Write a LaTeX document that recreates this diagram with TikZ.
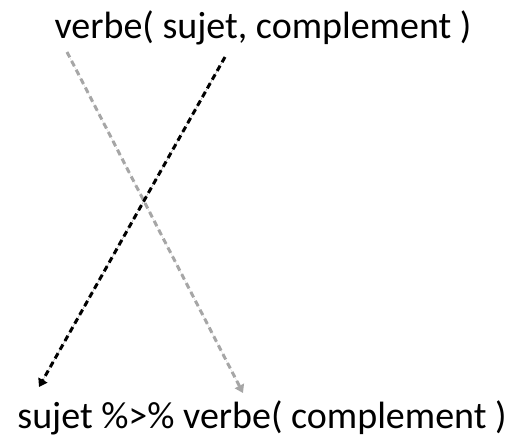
\documentclass[tikz,border=0pt]{standalone}
\usepackage{fontspec}
\setmainfont{Carlito}
\usetikzlibrary{arrows.meta}
\begin{document}
\begin{tikzpicture}[x=1pt,y=-1pt,
  lbl/.style={anchor=base,inner sep=0pt,font=\fontsize{38}{42}\selectfont},
  conn/.style={line width=3pt,dash pattern=on 6pt off 4pt,-{Triangle[width=10pt,length=8pt]}}]
\useasboundingbox (0,0) rectangle (522,442);
\node[lbl] (top) at (263,38) {verbe( sujet, complement )};
\node[lbl] (bot) at (262,428) {sujet \%>\% verbe( complement )};
\coordinate (gs) at (67,52);
\coordinate (ge) at (243,393);
\coordinate (bs) at (225,57);
\coordinate (be) at (39,387);
\draw[conn,draw=black!35,fill=black!35] (gs) -- (ge);
\draw[conn,draw=black,fill=black] (bs) -- (be);
\end{tikzpicture}
\end{document}
